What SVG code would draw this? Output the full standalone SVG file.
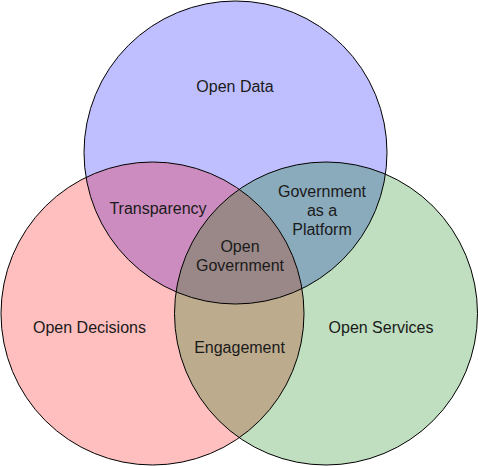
<svg xmlns="http://www.w3.org/2000/svg" width="478" height="466" viewBox="0 0 478 466">
  <style>
    .edge { fill: none; stroke: #000; stroke-width: 1; }
    text { font-family: "Liberation Sans", Arial, sans-serif; font-size: 16px; fill: #1a1a1a; text-anchor: middle; }
  </style>
  <defs>
    <clipPath id="cA"><circle cx="235.5" cy="152.5" r="151.5"/></clipPath>
    <clipPath id="cB"><circle cx="152.5" cy="313.5" r="151.5"/></clipPath>
  </defs>
  <rect width="478" height="466" fill="#fff"/>
  <g id="fills">
    <circle cx="235.5" cy="152.5" r="151.5" fill="#bfbfff"/>
    <circle cx="152.5" cy="313.5" r="151.5" fill="#ffbfbf"/>
    <circle cx="326" cy="313.5" r="151.5" fill="#c0dfc0"/>
    <circle cx="152.5" cy="313.5" r="151.5" fill="#cc8cbf" clip-path="url(#cA)"/>
    <circle cx="326" cy="313.5" r="151.5" fill="#8aabbc" clip-path="url(#cA)"/>
    <circle cx="326" cy="313.5" r="151.5" fill="#bdab8e" clip-path="url(#cB)"/>
    <g clip-path="url(#cA)">
      <circle cx="326" cy="313.5" r="151.5" fill="#9a8888" clip-path="url(#cB)"/>
    </g>
  </g>
  <g id="open-data">
    <circle class="edge" cx="235.5" cy="152.5" r="151.5"/>
    <text x="235" y="92">Open Data</text>
  </g>
  <g id="open-decisions">
    <circle class="edge" cx="152.5" cy="313.5" r="151.5"/>
    <text x="89.5" y="333">Open Decisions</text>
  </g>
  <g id="open-services">
    <circle class="edge" cx="326" cy="313.5" r="151.5"/>
    <text x="381" y="333">Open Services</text>
  </g>
  <g id="transparency">
    <text x="158" y="214">Transparency</text>
  </g>
  <g id="government-as-a-platform">
    <text x="322" y="197">Government</text>
    <text x="322" y="216">as a</text>
    <text x="322" y="235">Platform</text>
  </g>
  <g id="open-government">
    <text x="240" y="252">Open</text>
    <text x="240" y="271">Government</text>
  </g>
  <g id="engagement">
    <text x="239.5" y="353">Engagement</text>
  </g>
</svg>
